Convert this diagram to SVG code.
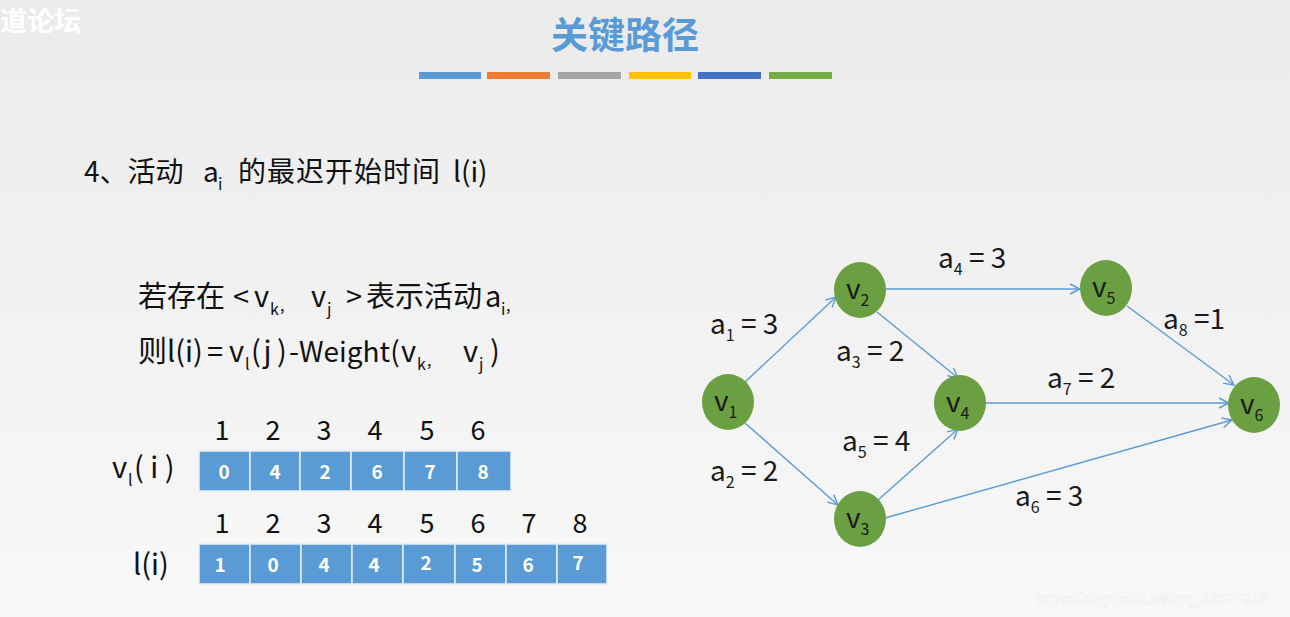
<svg xmlns="http://www.w3.org/2000/svg" width="1290" height="617" viewBox="0 0 1290 617">
<defs>
<linearGradient id="bg" x1="0" y1="0" x2="0" y2="1">
<stop offset="0" stop-color="#ebebeb"/>
<stop offset="1" stop-color="#f8f8f8"/>
</linearGradient>
<marker id="arr" viewBox="0 0 12 12" refX="11" refY="6" markerWidth="12" markerHeight="12" markerUnits="userSpaceOnUse" orient="auto">
<path d="M1,1 L11,6 L1,11" fill="none" stroke="#5b9bd5" stroke-width="1.4"/>
</marker>
<style>
.t{font-family:"Noto Sans CJK SC","Noto Sans",sans-serif;fill:#111;}
.h{font-size:28px;}
.f{font-size:29px;}
.s{font-size:16px;}
.idx{font-family:"Noto Sans CJK SC","Noto Sans",sans-serif;font-size:27px;fill:#111;text-anchor:middle;}
.cell{fill:#5b9bd5;stroke:#e8eef6;stroke-width:1.5;}
.cv{font-family:"Noto Sans CJK SC","Noto Sans",sans-serif;font-size:19px;font-weight:bold;fill:#fff;text-anchor:middle;}
.node{fill:#6aa042;}
.nl{font-family:"Noto Sans CJK SC","Noto Sans",sans-serif;font-size:28px;fill:#1a1a1a;}
.ns{font-size:16px;}
.el{font-family:"Noto Sans CJK SC","Noto Sans",sans-serif;font-size:28px;fill:#1a1a1a;}
.edge{stroke:#5b9bd5;stroke-width:1.4;fill:none;marker-end:url(#arr);}
</style>
</defs>
<rect width="1290" height="617" fill="url(#bg)"/>
<text x="0" y="31" font-family="Noto Sans CJK SC, sans-serif" font-size="27" font-weight="bold" fill="#ffffff">道论坛</text>
<text x="625" y="49" text-anchor="middle" font-family="Noto Sans CJK SC, sans-serif" font-size="37" font-weight="bold" fill="#5b9bd5">关键路径</text>
<g id="bars">
<rect x="419" y="72" width="62" height="7" fill="#5b9bd5"/>
<rect x="487" y="72" width="63" height="7" fill="#ed7d31"/>
<rect x="558" y="72" width="63" height="7" fill="#a5a5a5"/>
<rect x="629" y="72" width="62" height="7" fill="#ffc000"/>
<rect x="698" y="72" width="63" height="7" fill="#4472c4"/>
<rect x="769" y="72" width="63" height="7" fill="#70ad47"/>
</g>
<g id="heading">
<text x="84" y="182" class="t h">4、活动</text>
<text x="203" y="182" class="t h">a</text>
<text x="218" y="190" class="t s">i</text>
<text x="238" y="182" class="t h" letter-spacing="1">的最迟开始时间</text>
<text x="453" y="182" class="t h">l(i)</text>
</g>
<g id="formula">
<text x="138" y="307" class="t f">若存在</text>
<text x="233" y="307" class="t f">&lt;</text>
<text x="254" y="307" class="t f">v</text>
<text x="270" y="315" class="t s">k</text>
<text x="280" y="311" class="t s">,</text>
<text x="311" y="307" class="t f">v</text>
<text x="327" y="315" class="t s">j</text>
<text x="346" y="307" class="t f">&gt;</text>
<text x="366" y="307" class="t f">表示活动</text>
<text x="485" y="307" class="t f">a</text>
<text x="501" y="315" class="t s">i</text>
<text x="506" y="311" class="t s">,</text>
<text x="138" y="362" class="t f">则</text>
<text x="167" y="362" class="t f">l(i)</text>
<text x="207" y="362" class="t f">=</text>
<text x="229" y="362" class="t f">v</text>
<text x="245" y="370" class="t s">l</text>
<text x="251" y="362" class="t f">(j</text>
<text x="277" y="362" class="t f">)</text>
<text x="289" y="362" class="t f">-</text>
<text x="299" y="362" class="t" font-size="28">Weight(</text>
<text x="401" y="362" class="t f">v</text>
<text x="417" y="370" class="t s">k</text>
<text x="427" y="366" class="t s">,</text>
<text x="463" y="362" class="t f">v</text>
<text x="479" y="370" class="t s">j</text>
<text x="490" y="362" class="t f">)</text>
</g>
<g id="table-vl">
<text x="112" y="478" class="t f">v</text>
<text x="128" y="486" class="t s">l</text>
<text x="134" y="478" class="t f">( i )</text>
<text x="222" y="440" class="idx">1</text>
<text x="273" y="440" class="idx">2</text>
<text x="324" y="440" class="idx">3</text>
<text x="375" y="440" class="idx">4</text>
<text x="427" y="440" class="idx">5</text>
<text x="478" y="440" class="idx">6</text>
<rect class="cell" x="199" y="451" width="51" height="40"/>
<rect class="cell" x="250" y="451" width="50" height="40"/>
<rect class="cell" x="300" y="451" width="51" height="40"/>
<rect class="cell" x="351" y="451" width="53" height="40"/>
<rect class="cell" x="404" y="451" width="53" height="40"/>
<rect class="cell" x="457" y="451" width="54" height="40"/>
<text x="224" y="479" class="cv">0</text>
<text x="275" y="479" class="cv">4</text>
<text x="325" y="479" class="cv">2</text>
<text x="377" y="479" class="cv">6</text>
<text x="430" y="479" class="cv">7</text>
<text x="483" y="479" class="cv">8</text>
</g>
<g id="table-l">
<text x="133" y="575" class="t f">l(i)</text>
<text x="222" y="533" class="idx">1</text>
<text x="273" y="533" class="idx">2</text>
<text x="324" y="533" class="idx">3</text>
<text x="375" y="533" class="idx">4</text>
<text x="427" y="533" class="idx">5</text>
<text x="478" y="533" class="idx">6</text>
<text x="529" y="533" class="idx">7</text>
<text x="580" y="533" class="idx">8</text>
<rect class="cell" x="199" y="544" width="51" height="40"/>
<rect class="cell" x="250" y="544" width="51" height="40"/>
<rect class="cell" x="301" y="544" width="51" height="40"/>
<rect class="cell" x="352" y="544" width="51" height="40"/>
<rect class="cell" x="403" y="544" width="52" height="40"/>
<rect class="cell" x="455" y="544" width="51" height="40"/>
<rect class="cell" x="506" y="544" width="51" height="40"/>
<rect class="cell" x="557" y="544" width="50" height="40"/>
<text x="220" y="572" class="cv">1</text>
<text x="273" y="572" class="cv">0</text>
<text x="324" y="572" class="cv">4</text>
<text x="374" y="572" class="cv">4</text>
<text x="426" y="570" class="cv">2</text>
<text x="477" y="572" class="cv">5</text>
<text x="528" y="572" class="cv">6</text>
<text x="578" y="570" class="cv">7</text>
</g>
<g id="connectors">
<line class="edge" x1="745" y1="382" x2="836" y2="297"/>
<line class="edge" x1="745" y1="423" x2="838" y2="505"/>
<line class="edge" x1="884" y1="289" x2="1080" y2="289"/>
<line class="edge" x1="877" y1="312" x2="958" y2="378"/>
<line class="edge" x1="878" y1="500" x2="958" y2="429"/>
<line class="edge" x1="885" y1="518" x2="1232" y2="420"/>
<line class="edge" x1="985" y1="403" x2="1229" y2="403"/>
<line class="edge" x1="1127" y1="306" x2="1234" y2="385"/>
</g>
<g id="edge-labels">
<text x="710" y="334" class="el">a<tspan class="ns" dy="7">1</tspan><tspan dy="-7"> = 3</tspan></text>
<text x="710" y="481" class="el">a<tspan class="ns" dy="7">2</tspan><tspan dy="-7"> = 2</tspan></text>
<text x="836" y="361" class="el">a<tspan class="ns" dy="7">3</tspan><tspan dy="-7"> = 2</tspan></text>
<text x="938" y="268" class="el">a<tspan class="ns" dy="7">4</tspan><tspan dy="-7"> = 3</tspan></text>
<text x="842" y="451" class="el">a<tspan class="ns" dy="7">5</tspan><tspan dy="-7"> = 4</tspan></text>
<text x="1015" y="506" class="el">a<tspan class="ns" dy="7">6</tspan><tspan dy="-7"> = 3</tspan></text>
<text x="1047" y="388" class="el">a<tspan class="ns" dy="7">7</tspan><tspan dy="-7"> = 2</tspan></text>
<text x="1163" y="329" class="el">a<tspan class="ns" dy="7">8</tspan><tspan dy="-7"> =1</tspan></text>
</g>
<g id="v1"><ellipse class="node" cx="728" cy="402" rx="26" ry="28"/><text x="714" y="411" class="nl">v<tspan class="ns" dy="7">1</tspan></text></g>
<g id="v2"><ellipse class="node" cx="860" cy="290" rx="26" ry="28"/><text x="846" y="299" class="nl">v<tspan class="ns" dy="7">2</tspan></text></g>
<g id="v3"><ellipse class="node" cx="860" cy="519" rx="26" ry="28"/><text x="846" y="528" class="nl">v<tspan class="ns" dy="7">3</tspan></text></g>
<g id="v4"><ellipse class="node" cx="960" cy="403" rx="26" ry="28"/><text x="946" y="412" class="nl">v<tspan class="ns" dy="7">4</tspan></text></g>
<g id="v5"><ellipse class="node" cx="1106" cy="288" rx="26" ry="28"/><text x="1092" y="297" class="nl">v<tspan class="ns" dy="7">5</tspan></text></g>
<g id="v6"><ellipse class="node" cx="1254" cy="405" rx="26" ry="28"/><text x="1240" y="414" class="nl">v<tspan class="ns" dy="7">6</tspan></text></g>
<text x="1037" y="604" font-family="Liberation Sans, sans-serif" font-size="15" fill="#ffffff" stroke="#e4e4e4" stroke-width="0.3">https://blog.csdn.net/qq_43607916</text>
</svg>
